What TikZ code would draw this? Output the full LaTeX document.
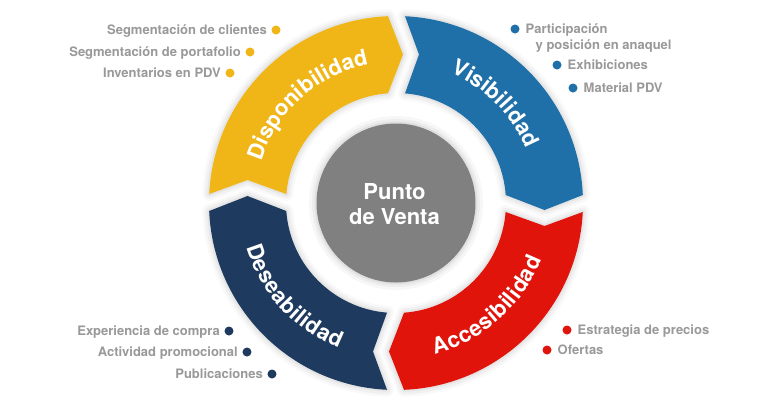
\documentclass[tikz,border=0pt]{standalone}
\usepackage{fontspec}
\setmainfont{TeX Gyre Heros}
\usetikzlibrary{decorations.text}
\definecolor{cY}{RGB}{240,181,22}
\definecolor{cB}{RGB}{31,111,168}
\definecolor{cR}{RGB}{225,20,12}
\definecolor{cN}{RGB}{30,58,94}
\definecolor{cG}{RGB}{128,128,128}
\definecolor{cT}{RGB}{153,153,153}
\newcommand\segfont{\bfseries\fontsize{22pt}{22pt}\selectfont}
\newcommand\ringseg[2]{%
 \path[#2] ({177.24+(#1)}:187pt) arc[start angle={177.24+(#1)}, end angle={92.45+(#1)}, radius=187pt]
  -- ({87.30+(#1)}:148.66pt) -- ({94.17+(#1)}:110pt)
  arc[start angle={94.17+(#1)}, end angle={175.31+(#1)}, radius=110pt]
  -- ({171.20+(#1)}:150.27pt) -- cycle;}
\newcommand\segshadow[1]{%
 \ringseg{#1}{draw=black, draw opacity=0.025, line width=14pt, line join=round}
 \ringseg{#1}{draw=black, draw opacity=0.035, line width=9pt, line join=round}
 \ringseg{#1}{draw=black, draw opacity=0.045, line width=4pt, line join=round}}
\tikzset{
 bul/.style={circle, fill=#1, minimum size=9pt, inner sep=0pt},
 itm/.style={text=cT, font=\bfseries\fontsize{13pt}{16pt}\selectfont, inner sep=0pt},
 seglabel/.style={decorate, decoration={text along path, text align=center, text color=white, text={|\segfont|#1}}},
 seglabelin/.style={decorate, decoration={text along path, text align=center, text color=white, raise=-7.5pt, text={|\segfont|#1}}},
}
\begin{document}
\begin{tikzpicture}[x=1pt, y=1pt]
\fill[white] (-396,-205) rectangle (374,203);
\useasboundingbox (-396,-205) rectangle (374,203);
% shadows
\segshadow{0}
\segshadow{-90}
\segshadow{-180}
\segshadow{90}
% segments
\ringseg{0}{fill=cY}
\ringseg{-90}{fill=cB}
\ringseg{-180}{fill=cR}
\ringseg{90}{fill=cN}
% segment labels
\path[seglabel=Disponibilidad] (174:141pt) arc[start angle=174, end angle=90, radius=141pt];
\path[seglabel=Visibilidad] (87:141pt) arc[start angle=87, end angle=3, radius=141pt];
\path[seglabelin=Deseabilidad] (180.5:148.5pt) arc[start angle=180.5, end angle=264.5, radius=148.5pt];
\path[seglabelin=Accesibilidad] (269.5:148.5pt) arc[start angle=269.5, end angle=353.5, radius=148.5pt];
% centre
\fill[black, opacity=0.03] (0,0) circle[radius=87pt];
\fill[black, opacity=0.04] (0,0) circle[radius=84pt];
\fill[black, opacity=0.05] (0,0) circle[radius=81.5pt];
\node[circle, fill=cG, minimum size=159pt, inner sep=0pt] (pv) at (0,0) {};
\node[text=white, font=\bfseries\fontsize{22pt}{25pt}\selectfont, align=center, inner sep=0pt] (pvt) at (-1.5,-1) {Punto\\de Venta};
% yellow items
\node[bul=cY] (y1) at (-120,173) {};
\node[bul=cY] (y2) at (-146,151) {};
\node[bul=cY] (y3) at (-166,130) {};
\node[itm, anchor=base east] (ty1) at ([xshift=-9pt, yshift=-4.5pt]y1.center) {Segmentación de clientes};
\node[itm, anchor=base east] (ty2) at ([xshift=-9pt, yshift=-4.5pt]y2.center) {Segmentación de portafolio};
\node[itm, anchor=base east] (ty3) at ([xshift=-9pt, yshift=-4.5pt]y3.center) {Inventarios en PDV};
% blue items
\node[bul=cB] (b1) at (119,174) {};
\node[bul=cB] (b2) at (161,138) {};
\node[bul=cB] (b3) at (177,115) {};
\node[itm, anchor=base west] (tb1) at ([xshift=10.5pt, yshift=-4.5pt]b1.center) {Participación};
\node[itm, anchor=base west] (tb1b) at ([xshift=20.5pt, yshift=-20pt]b1.center) {y posición en anaquel};
\node[itm, anchor=base west] (tb2) at ([xshift=10.5pt, yshift=-4.5pt]b2.center) {Exhibiciones};
\node[itm, anchor=base west] (tb3) at ([xshift=10.5pt, yshift=-4.5pt]b3.center) {Material PDV};
% navy items
\node[bul=cN] (n1) at (-167,-128) {};
\node[bul=cN] (n2) at (-149,-149) {};
\node[bul=cN] (n3) at (-124,-171) {};
\node[itm, anchor=base east] (tn1) at ([xshift=-9pt, yshift=-4.5pt]n1.center) {Experiencia de compra};
\node[itm, anchor=base east] (tn2) at ([xshift=-9pt, yshift=-4.5pt]n2.center) {Actividad promocional};
\node[itm, anchor=base east] (tn3) at ([xshift=-9pt, yshift=-4.5pt]n3.center) {Publicaciones};
% red items
\node[bul=cR] (r1) at (171,-127) {};
\node[bul=cR] (r2) at (151,-147) {};
\node[itm, anchor=base west] (tr1) at ([xshift=10.5pt, yshift=-4.5pt]r1.center) {Estrategia de precios};
\node[itm, anchor=base west] (tr2) at ([xshift=10.5pt, yshift=-4.5pt]r2.center) {Ofertas};
\end{tikzpicture}
\end{document}
